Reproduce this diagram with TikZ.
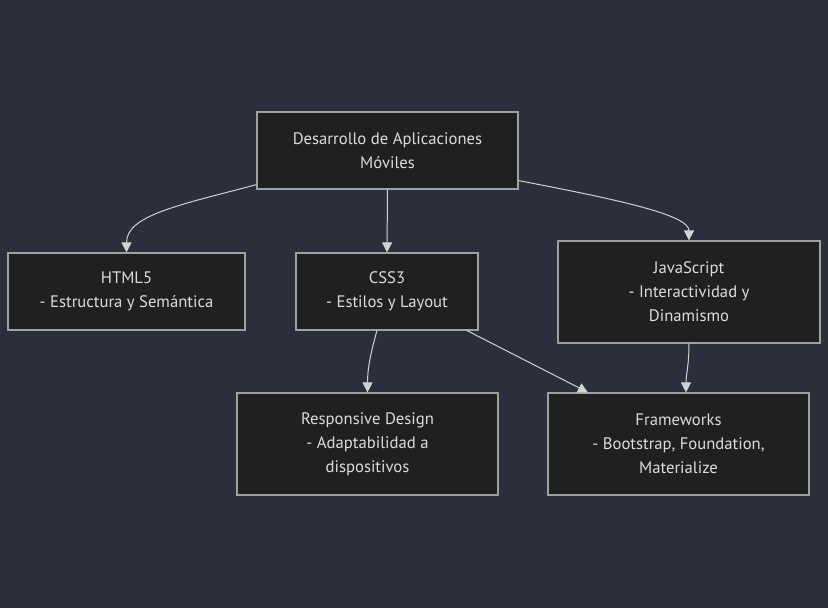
\documentclass[tikz,border=0pt]{standalone}
\usepackage{fontspec}
\setmainfont{PT Sans}
\usetikzlibrary{arrows.meta}
\definecolor{bgcol}{RGB}{43,47,59}
\definecolor{boxfill}{RGB}{31,32,32}
\definecolor{boxline}{RGB}{160,160,160}
\definecolor{txtcol}{RGB}{220,220,220}
\definecolor{edgecol}{RGB}{210,210,210}
\tikzset{>={Triangle[length=7.5pt,width=7.5pt]}}
\tikzset{
  topic/.style={draw=boxline,fill=boxfill,line width=0.9pt,text=txtcol,
    align=center,inner sep=0pt,
    font=\fontsize{12.5}{18}\selectfont},
  link/.style={->,draw=edgecol,line width=0.75pt}
}

\begin{document}
\begin{tikzpicture}[x=0.75pt,y=-0.75pt]
    \fill [bgcol] (0,0) rectangle (828,608);
    \useasboundingbox (0,0) rectangle (828,608);

    \node [topic,minimum width=195.75pt,minimum height=57.75pt]
    (dev) at (387.5,150.5) {Desarrollo de Aplicaciones\\M\'oviles};

    \node [topic,minimum width=177.75pt,minimum height=57.75pt]
    (html) at (126.5,291.5) {HTML5\\- Estructura y Sem\'antica};

    \node [topic,minimum width=136.5pt,minimum height=57.75pt]
    (css) at (387,291.5) {CSS3\\- Estilos y Layout};

    \node [topic,minimum width=196.5pt,minimum height=76.5pt]
    (js) at (689,292) {JavaScript\\- Interactividad y\\Dinamismo};

    \node [topic,minimum width=195.75pt,minimum height=76.5pt]
    (resp) at (367.5,444) {Responsive Design\\- Adaptabilidad a\\dispositivos};

    \node [topic,minimum width=195.75pt,minimum height=76.5pt]
    (fw) at (678.5,444) {Frameworks\\- Bootstrap, Foundation,\\Materialize};

    \draw [link] ([yshift=3.75pt]dev.south west)
      .. controls (180,205) and (126.5,215) .. (html.north);
    \draw [link] (dev.south) -- (css.north);
    \draw [link] ([yshift=6.75pt]dev.south east)
      .. controls (620,200) and (689,215) .. (js.north);

    \draw [link] ([xshift=-7.5pt]css.south)
      .. controls (370,355) and (367.5,370) .. (resp.north);
    \draw [link] ([xshift=60pt]css.south) -- ([xshift=-67.9pt]fw.north);
    \draw [link] (js.south)
      .. controls (689,365) and (686,375) .. ([xshift=5.6pt]fw.north);

  \end{tikzpicture}
\end{document}
